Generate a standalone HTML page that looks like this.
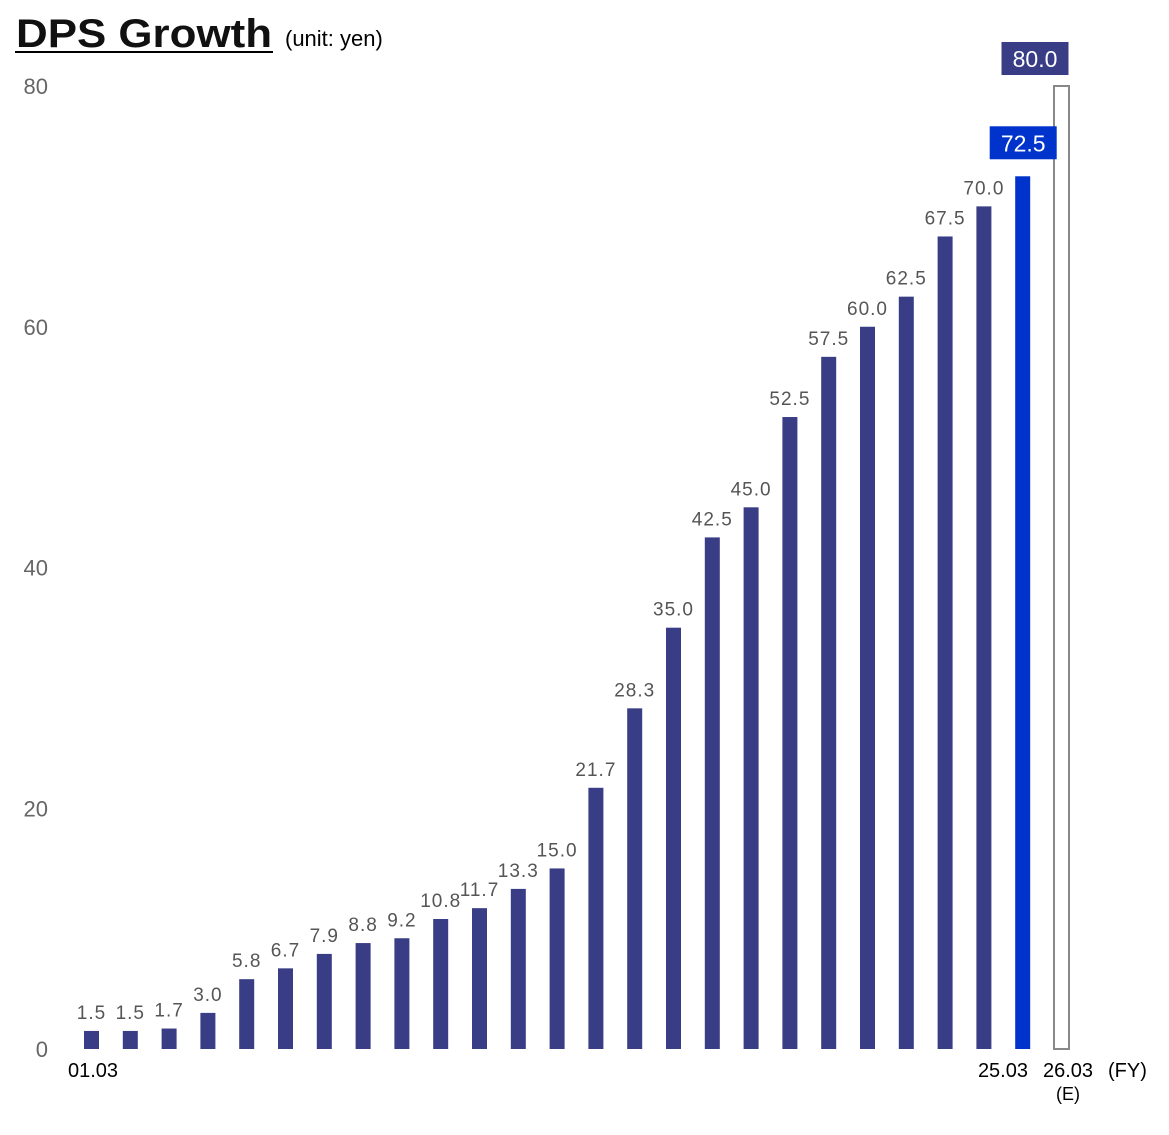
<!DOCTYPE html>
<html><head><meta charset="utf-8"><style>
body{margin:0;background:#fff;}
svg text{font-family:"Liberation Sans","DejaVu Sans",sans-serif;}
</style></head><body>
<svg width="1169" height="1130">
<text x="16" y="47" font-size="40" font-weight="bold" fill="#111" textLength="256" lengthAdjust="spacingAndGlyphs" stroke="#fff" stroke-width="0.6" paint-order="stroke">DPS Growth</text>
<line x1="15" y1="52" x2="273" y2="52" stroke="#000" stroke-width="2"/>
<text x="285" y="46" font-size="22" fill="#000">(unit: yen)</text>
<g id="yaxis"></g>
<g id="bars"></g>
<g id="labels"></g>
<text x="1028" y="1077" font-size="20" fill="#000" text-anchor="end">25.03</text>
<text x="1068" y="1077" font-size="20" fill="#000" text-anchor="middle">26.03</text>
<text x="1068" y="1100" font-size="18" fill="#000" text-anchor="middle">(E)</text>
<text x="1108" y="1077" font-size="20" fill="#000">(FY)</text>
<text x="93" y="1077" font-size="20" fill="#000" text-anchor="middle">01.03</text>
</svg>
<script>
const categories=["01.03","02.03","03.03","04.03","05.03","06.03","07.03","08.03","09.03","10.03","11.03","12.03","13.03","14.03","15.03","16.03","17.03","18.03","19.03","20.03","21.03","22.03","23.03","24.03","25.03","26.03"];
const values=[1.5,1.5,1.7,3.0,5.8,6.7,7.9,8.8,9.2,10.8,11.7,13.3,15.0,21.7,28.3,35.0,42.5,45.0,52.5,57.5,60.0,62.5,67.5,70.0,72.5,80.0];
const yTicks=[0,20,40,60,80];
const NS="http://www.w3.org/2000/svg";
function y(v){return 1049-v*(963/80);}
function xc(i){return 91.5+i*38.8;}
function mk(tag,attrs,parent){const e=document.createElementNS(NS,tag);for(const k in attrs)e.setAttribute(k,attrs[k]);parent.appendChild(e);return e;}
const ya=document.getElementById('yaxis'),bg=document.getElementById('bars'),lg=document.getElementById('labels');
yTicks.forEach(t=>{const e=mk('text',{x:48,y:y(t)+8,'font-size':22,fill:'#666','text-anchor':'end'},ya);e.textContent=t;

});
const n=values.length;
values.forEach((v,i)=>{
 const last=i===n-1,cur=i===n-2;
 const r=mk('rect',{x:xc(i)-7.5,y:y(v),width:15,height:y(0)-y(v),fill:last?'#fff':(cur?'#0033cc':'#383d85'),stroke:last?'#888':'none','stroke-width':last?2:0},bg);
 
 
 if(last||cur){
  const bx=last?xc(i)-60:xc(i)-33, by=y(v)-(last?44:50);
  const b=mk('rect',{x:bx,y:by,width:67,height:33,fill:last?'#383d85':'#0033cc'},lg);
  
  
  const t=mk('text',{x:bx+33.5,y:by+25,'font-size':23,fill:'#fff','text-anchor':'middle'},lg);
  t.textContent=v.toFixed(1);
  
  
 } else {
  const t=mk('text',{x:xc(i),y:y(v)-12,'font-size':19,fill:'#555','text-anchor':'middle','letter-spacing':1},lg);
  t.textContent=v.toFixed(1);
  
  
 }
});
</script>
</body></html>
